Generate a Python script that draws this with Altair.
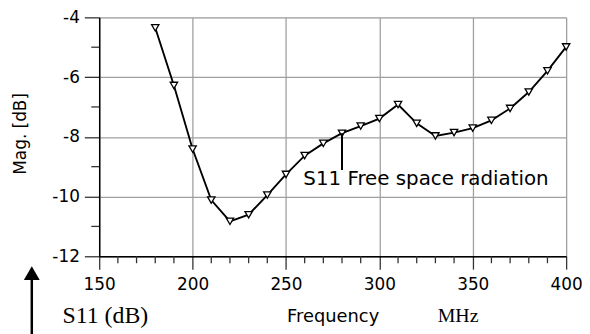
import altair as alt
import pandas as pd

# ---- data ----
freq = [180, 190, 200, 210, 220, 230, 240, 250, 260, 270, 280, 290,
        300, 310, 320, 330, 340, 350, 360, 370, 380, 390, 400]
s11 = [-4.35, -6.28, -8.41, -10.12, -10.83, -10.61, -9.95, -9.26, -8.63,
       -8.22, -7.88, -7.64, -7.39, -6.92, -7.55, -7.97, -7.86, -7.71,
       -7.45, -7.05, -6.50, -5.79, -4.99]
x_major = [150, 200, 250, 300, 350, 400]
y_major = [-12, -10, -8, -6, -4]
x_minor = [160, 170, 180, 190, 210, 220, 230, 240, 260, 270, 280, 290,
           310, 320, 330, 340, 360, 370, 380, 390]
y_minor = [-11, -9, -7, -5]
annot_freq = [280]
annot_val = [-7.88]
annot_text = ["S11 Free space radiation"]
y_title = "Mag. [dB]"
x_title = "Frequency"
unit_text = ["MHz"]
corner_text = ["S11 (dB)"]

W, H = 471, 241
SANS = "DejaVu Sans"
SERIF = "Liberation Serif"

df = pd.DataFrame({"freq": freq, "s11": s11})
xs = alt.Scale(domain=[150, 400], nice=False, zero=False)
ys = alt.Scale(domain=[-12, -4], nice=False, zero=False)

xaxis = alt.Axis(values=x_major, tickSize=13, tickColor="#333", tickWidth=1.3,
                 labelPadding=8, labelFont=SANS, labelFontSize=17, labelColor="black",
                 labelExpr="'' + datum.value", labelFlush=False, labelOverlap=False,
                 domainColor="black", domainWidth=1.5,
                 grid=True, gridColor="#a0a0a0", gridWidth=1.3,
                 title=x_title, titleFont=SANS, titleFontSize=18, titleFontWeight="normal",
                 titleColor="black", titleY=61, titleBaseline="middle")
yaxis = alt.Axis(values=y_major, tickSize=15, tickColor="#333", tickWidth=1.3,
                 labelPadding=5, labelFont=SANS, labelFontSize=17, labelColor="black",
                 labelExpr="'' + datum.value", labelFlush=False, labelOverlap=False,
                 domainColor="black", domainWidth=1.5,
                 grid=True, gridColor="#a0a0a0", gridWidth=1.3,
                 title=y_title, titleFont=SANS, titleFontSize=17, titleFontWeight="normal",
                 titleColor="black", titleX=-79, titleY=117, titleAngle=-90,
                 titleAlign="center", titleBaseline="middle")

line = alt.Chart(df).mark_line(color="black", strokeWidth=1.9).encode(
    x=alt.X("freq:Q", scale=xs, axis=xaxis),
    y=alt.Y("s11:Q", scale=ys, axis=yaxis),
)
pts = alt.Chart(df).mark_point(shape="triangle-down", filled=True, fill="white",
                               stroke="black", strokeWidth=1.3, size=55, opacity=1).encode(
    x=alt.X("freq:Q", scale=xs), y=alt.Y("s11:Q", scale=ys))

ymin = alt.Chart(pd.DataFrame({"v": y_minor})).mark_rule(color="#333", strokeWidth=1.3).encode(
    y=alt.Y("v:Q", scale=ys), x=alt.value(-8), x2=alt.value(0))
xmin = alt.Chart(pd.DataFrame({"v": x_minor})).mark_rule(color="#333", strokeWidth=1.3).encode(
    x=alt.X("v:Q", scale=xs), y=alt.value(H), y2=alt.value(H + 7))

adf = pd.DataFrame({"f": annot_freq, "v": annot_val, "t": annot_text})
arule = alt.Chart(adf).mark_rule(color="black", strokeWidth=2).encode(
    x=alt.X("f:Q", scale=xs), y=alt.Y("v:Q", scale=ys), y2=alt.value(154))
atext = alt.Chart(adf).mark_text(font=SANS, fontSize=20, align="left", baseline="middle",
                                 dx=-39, color="black").encode(
    x=alt.X("f:Q", scale=xs), y=alt.value(163), text="t:N")

mhz = alt.Chart(pd.DataFrame({"t": unit_text})).mark_text(
    font=SERIF, fontSize=20, align="center", baseline="middle", color="black").encode(
    x=alt.value(362), y=alt.value(301), text="t:N")
corner = alt.Chart(pd.DataFrame({"t": corner_text})).mark_text(
    font=SERIF, fontSize=24, align="left", baseline="middle", color="black").encode(
    x=alt.value(-37), y=alt.value(301), text="t:N")

shaft = alt.Chart(pd.DataFrame({"t": corner_text})).mark_rule(color="black", strokeWidth=2.5).encode(
    x=alt.value(-68), y=alt.value(261), y2=alt.value(325))
head = alt.Chart(pd.DataFrame({"t": corner_text})).mark_point(
    shape="triangle-up", filled=True, color="black", size=256, opacity=1).encode(
    x=alt.value(-68), y=alt.value(258))

chart = alt.layer(line, pts, ymin, xmin, arule, atext, mhz, corner, shaft, head).properties(
    width=W, height=H,
    padding={"left": 92, "top": 8, "right": 16, "bottom": 80},
    autosize=alt.AutoSizeParams(type="none"),
).configure_view(stroke="#666", strokeWidth=1.5).configure(background="white")

chart.save("out.html", embed_options={"renderer": "svg", "actions": False})
